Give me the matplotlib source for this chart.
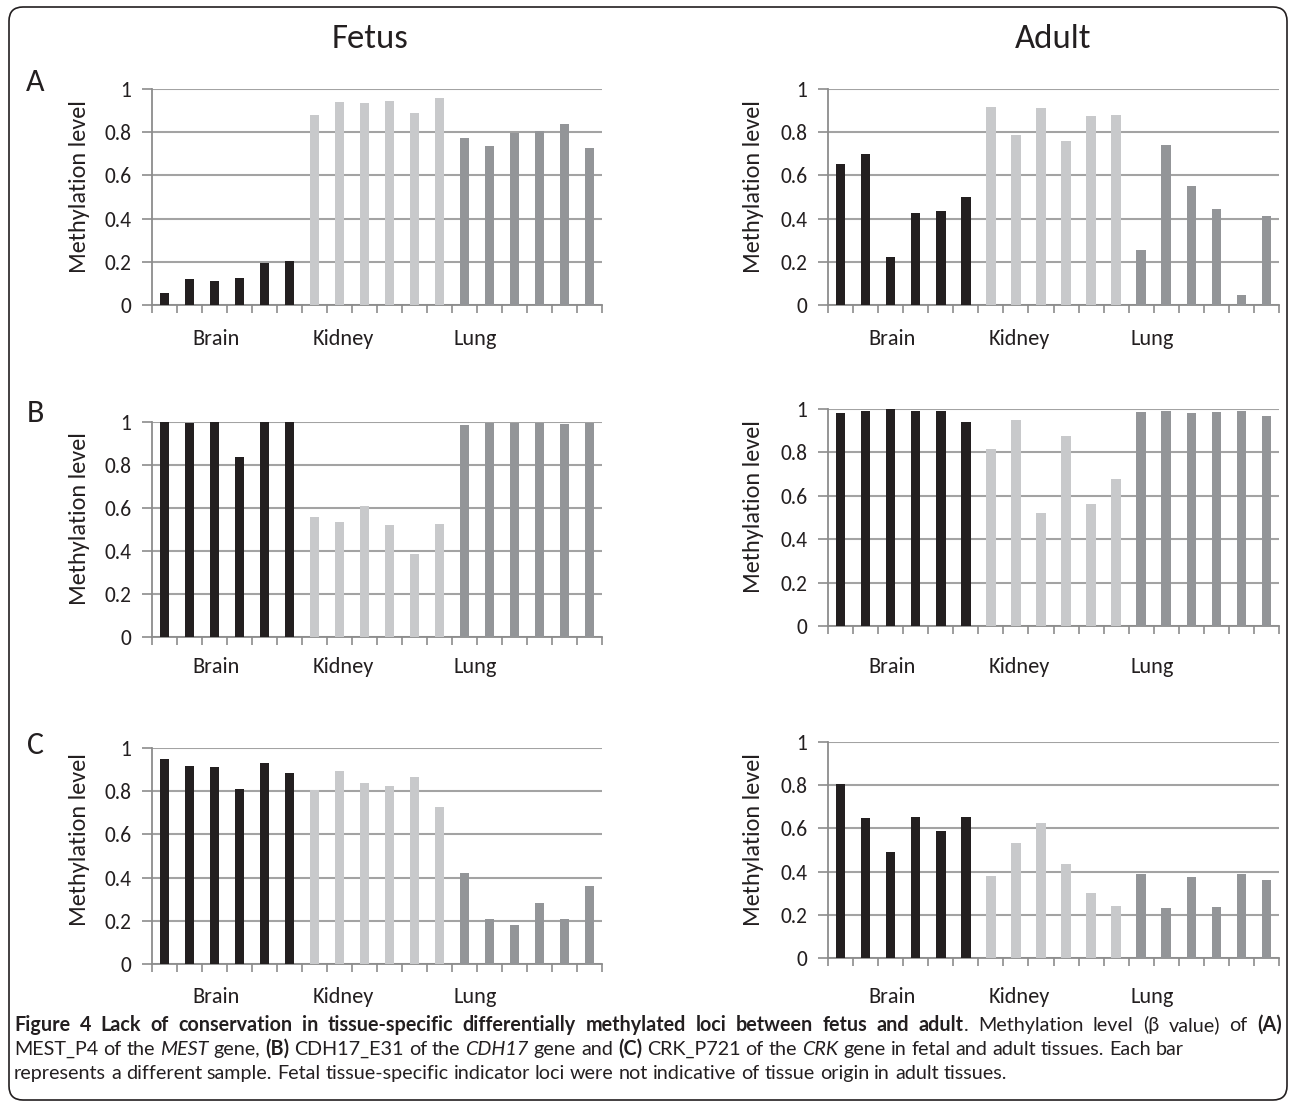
import numpy as np
import matplotlib
matplotlib.use('Agg')
import matplotlib.pyplot as plt
from matplotlib import font_manager
from matplotlib.patches import FancyBboxPatch
from matplotlib.transforms import IdentityTransform, blended_transform_factory

# ---------------- data ----------------
tissues = ['Brain', 'Kidney', 'Lung']
tissue_colors = ['#231F20', '#C8C9CB', '#939598']
column_titles = ['Fetus', 'Adult']
row_letters = ['A', 'B', 'C']
y_label = 'Methylation level'
y_ticks = [0, 0.2, 0.4, 0.6, 0.8, 1]
y_tick_labels = ['0', '0.2', '0.4', '0.6', '0.8', '1']

a_fetus_brain = [0.057, 0.122, 0.109, 0.126, 0.196, 0.202]
a_fetus_kidney = [0.880, 0.941, 0.935, 0.945, 0.891, 0.958]
a_fetus_lung = [0.772, 0.738, 0.797, 0.804, 0.838, 0.727]

a_adult_brain = [0.653, 0.700, 0.223, 0.427, 0.436, 0.501]
a_adult_kidney = [0.917, 0.787, 0.912, 0.760, 0.875, 0.880]
a_adult_lung = [0.253, 0.741, 0.550, 0.445, 0.048, 0.411]

b_fetus_brain = [1.000, 0.995, 1.000, 0.837, 1.000, 1.000]
b_fetus_kidney = [0.559, 0.536, 0.610, 0.522, 0.387, 0.526]
b_fetus_lung = [0.986, 0.995, 0.995, 0.995, 0.991, 0.995]

b_adult_brain = [0.983, 0.992, 1.000, 0.992, 0.992, 0.942]
b_adult_kidney = [0.817, 0.951, 0.522, 0.877, 0.563, 0.678]
b_adult_lung = [0.986, 0.992, 0.982, 0.986, 0.992, 0.969]

c_fetus_brain = [0.949, 0.917, 0.912, 0.810, 0.931, 0.884]
c_fetus_kidney = [0.804, 0.894, 0.838, 0.824, 0.866, 0.727]
c_fetus_lung = [0.420, 0.207, 0.182, 0.282, 0.208, 0.361]

c_adult_brain = [0.806, 0.648, 0.491, 0.653, 0.588, 0.653]
c_adult_kidney = [0.380, 0.532, 0.625, 0.435, 0.301, 0.241]
c_adult_lung = [0.390, 0.230, 0.373, 0.236, 0.387, 0.360]

panel_data = {
    ('A', 'Fetus'): [a_fetus_brain, a_fetus_kidney, a_fetus_lung],
    ('A', 'Adult'): [a_adult_brain, a_adult_kidney, a_adult_lung],
    ('B', 'Fetus'): [b_fetus_brain, b_fetus_kidney, b_fetus_lung],
    ('B', 'Adult'): [b_adult_brain, b_adult_kidney, b_adult_lung],
    ('C', 'Fetus'): [c_fetus_brain, c_fetus_kidney, c_fetus_lung],
    ('C', 'Adult'): [c_adult_brain, c_adult_kidney, c_adult_lung],
}

caption_lines = [
    [("Figure 4 Lack of conservation in tissue-specific differentially methylated loci between fetus and adult", 'bold'),
     (". Methylation level (\u03b2 value) of ", 'normal'), ("(A)", 'bold')],
    [("MEST_P4 of the ", 'normal'), ("MEST", 'italic'), (" gene, ", 'normal'), ("(B)", 'bold'),
     (" CDH17_E31 of the ", 'normal'), ("CDH17", 'italic'), (" gene and ", 'normal'), ("(C)", 'bold'),
     (" CRK_P721 of the ", 'normal'), ("CRK", 'italic'), (" gene in fetal and adult tissues. Each bar", 'normal')],
    [("represents a different sample. Fetal tissue-specific indicator loci were not indicative of tissue origin in adult tissues.", 'normal')],
]

# ---------------- fonts ----------------
available = {f.name for f in font_manager.fontManager.ttflist}


def pick(cands):
    for c in cands:
        if c in available:
            return c
    return 'DejaVu Sans'


chart_font = pick(['Carlito', 'Lato', 'Open Sans'])
cap_font = pick(['Lato', 'Open Sans'])
plt.rcParams['font.family'] = [chart_font, 'DejaVu Sans']

# ---------------- layout ----------------
W, H = 1290, 1104
fig = plt.figure(figsize=(W / 100, H / 100), dpi=100)
fig.patch.set_facecolor('white')

col_lr = {'Fetus': (152, 602), 'Adult': (828, 1279)}
row_tb = {
    ('A', 'Fetus'): (89, 305), ('A', 'Adult'): (89, 305),
    ('B', 'Fetus'): (422, 637), ('B', 'Adult'): (409, 626),
    ('C', 'Fetus'): (748, 964), ('C', 'Adult'): (742, 958),
}
ylabel_center = {
    ('A', 'Fetus'): 187, ('A', 'Adult'): 187,
    ('B', 'Fetus'): 519, ('B', 'Adult'): 507,
    ('C', 'Fetus'): 840, ('C', 'Adult'): 840,
}
cat_label_y = {'A': 339, 'B': 667, 'C': 997}
ylabel_x = {'Fetus': 79, 'Adult': 753}
letter_y = {'A': 82, 'B': 413, 'C': 745}
title_x = {'Fetus': 370, 'Adult': 1053}

GRID = '#A3A3A3'
AXIS = '#8C8C8C'
TXT = '#231F20'

for (row, col), groups in panel_data.items():
    left, right = col_lr[col]
    top, bottom = row_tb[(row, col)]
    ax = fig.add_axes([left / W, 1 - bottom / H, (right - left) / W, (bottom - top) / H])
    vals, cols, xs = [], [], []
    pos = 0
    starts = []
    for gi, g in enumerate(groups):
        starts.append(pos)
        for v in g:
            xs.append(pos)
            vals.append(v)
            cols.append(tissue_colors[gi])
            pos += 1
    n = pos
    ax.bar(xs, vals, width=0.38, color=cols, zorder=3)
    ax.set_xlim(-0.5, n - 0.5)
    ax.set_ylim(0, 1)
    ax.set_yticks(y_ticks)
    ax.set_yticklabels(y_tick_labels, fontsize=15.5, color=TXT)
    ax.set_xticks(np.arange(-0.5, n, 1.0))
    ax.set_xticklabels([])
    ax.tick_params(axis='x', direction='out', length=6, width=1.2, color=AXIS)
    ax.tick_params(axis='y', direction='out', length=7, width=1.2, color=AXIS, pad=8)
    ax.yaxis.grid(True, color=GRID, lw=1.5, zorder=0)
    ax.set_axisbelow(True)
    for s in ['top', 'right']:
        ax.spines[s].set_visible(False)
    for s in ['left', 'bottom']:
        ax.spines[s].set_color(AXIS)
        ax.spines[s].set_linewidth(1.3)
    ax.set_facecolor('none')
    # tissue labels (Excel style placement within each group)
    tr = blended_transform_factory(ax.transData, fig.transFigure)
    offsets = [2.05, 1.15, 0.42]
    for gi, name in enumerate(tissues):
        ax.text(starts[gi] + offsets[gi], 1 - cat_label_y[row] / H, name, transform=tr,
                ha='center', va='center', fontsize=16, color=TXT)
    fig.text(ylabel_x[col] / W, 1 - ylabel_center[(row, col)] / H, y_label, rotation=90,
             ha='center', va='center', fontsize=17.5, color=TXT)

for row in row_letters:
    fig.text(35 / W, 1 - letter_y[row] / H, row, ha='center', va='center', fontsize=23, color=TXT)
for col in column_titles:
    fig.text(title_x[col] / W, 1 - 39 / H, col, ha='center', va='center', fontsize=25, color=TXT)

# frame
frame = FancyBboxPatch((9, H - 1100), 1278, 1093, boxstyle='round,pad=0,rounding_size=14',
                       transform=IdentityTransform(), fill=False, ec=TXT, lw=1.2)
fig.add_artist(frame)

# ---------------- caption ----------------
renderer = fig.canvas.get_renderer()


def style_kw(style):
    if style == 'bold':
        return dict(fontweight='bold', fontstyle='normal')
    if style == 'italic':
        return dict(fontweight='normal', fontstyle='italic')
    return dict(fontweight='normal', fontstyle='normal')


def tokenize(segments):
    toks = []
    pending = False
    for text, style in segments:
        parts = text.split(' ')
        for i, p in enumerate(parts):
            if i > 0:
                pending = True
            if p == '':
                continue
            toks.append((p, style, pending and len(toks) > 0))
            pending = False
    return toks


def measure(s, style, size):
    t = fig.text(0, 0, s, fontsize=size, family=[cap_font, 'DejaVu Sans'], **style_kw(style))
    w = t.get_window_extent(renderer).width
    t.remove()
    return w


def natural_width(toks, size):
    sw = measure('x x', 'normal', size) - measure('xx', 'normal', size)
    return sum(measure(w, st, size) for w, st, _ in toks) + sum(1 for _, _, sp in toks if sp) * sw


line_x0 = 14
line_target = 1282
line2_end = 1181
line_y = [1031, 1055, 1079]

# choose size so that line 2 has its natural width as in the reference
tok_lines = [tokenize(s) for s in caption_lines]
base = 13.0
cap_size = base * (line2_end - line_x0) / natural_width(tok_lines[1], base)
space_w = measure('x x', 'normal', cap_size) - measure('xx', 'normal', cap_size)

for li, toks in enumerate(tok_lines):
    widths = [measure(w, st, cap_size) for w, st, _ in toks]
    n_sp = sum(1 for _, _, sp in toks if sp)
    gap = space_w
    if li == 0:
        natural = sum(widths) + n_sp * space_w
        gap = space_w + (line_target - line_x0 - natural) / max(n_sp, 1)
    x = line_x0
    for (w, st, sp), wd in zip(toks, widths):
        if sp:
            x += gap
        fig.text(x / W, 1 - line_y[li] / H, w, fontsize=cap_size, family=[cap_font, 'DejaVu Sans'],
                 ha='left', va='baseline', color=TXT, **style_kw(st))
        x += wd

fig.savefig('out.png', dpi=100, facecolor='white')
